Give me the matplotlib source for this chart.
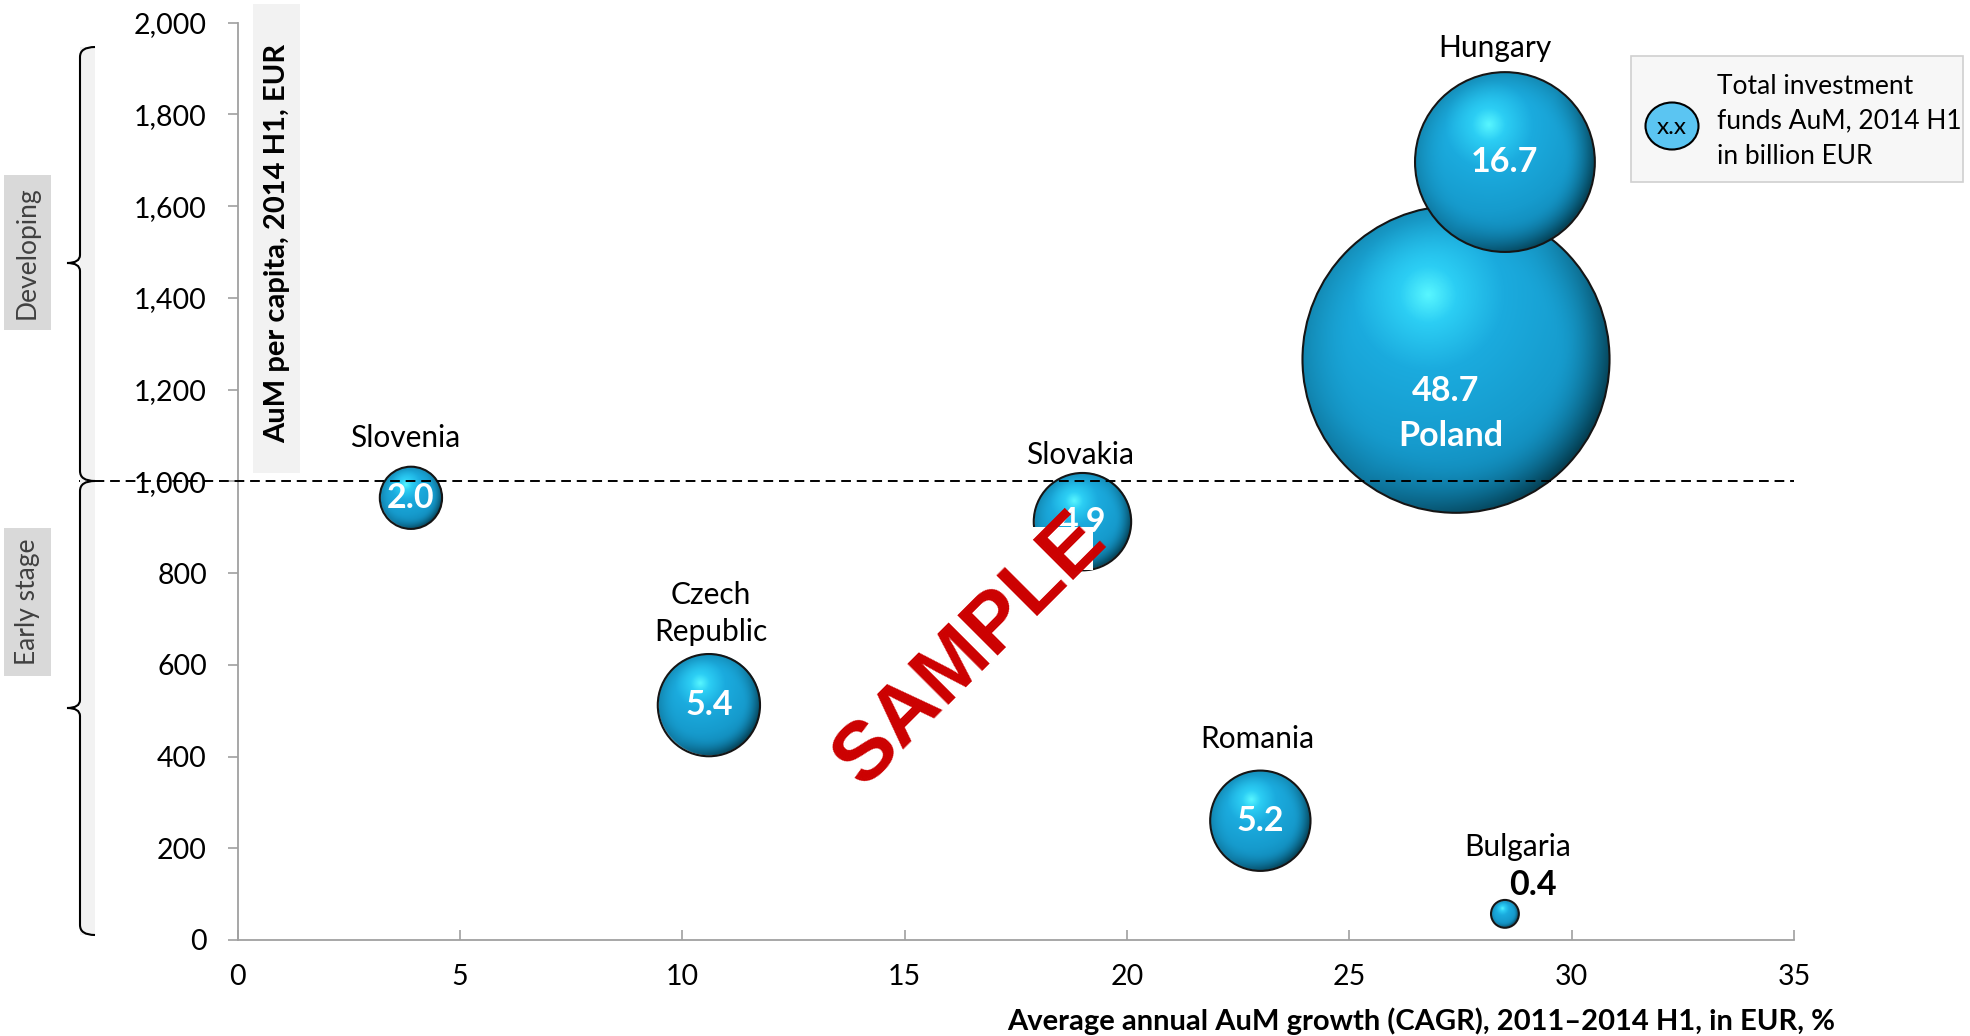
import numpy as np
import matplotlib
matplotlib.use('Agg')
import matplotlib.pyplot as plt
import matplotlib.transforms as mtransforms
from matplotlib.patches import Rectangle, Ellipse, PathPatch
from matplotlib.path import Path
from matplotlib.colors import to_rgb, LinearSegmentedColormap
from matplotlib.ticker import FuncFormatter

plt.rcParams['font.family'] = ['Lato', 'DejaVu Sans']

# data
countries = ['Slovenia', 'Czech\nRepublic', 'Slovakia', 'Romania', 'Bulgaria', 'Hungary', 'Poland']
cagr = [3.9, 10.6, 19.0, 23.0, 28.5, 28.5, 27.4]              # %, x axis
aum_per_capita = [964, 512, 912, 260, 57, 1696, 1266]          # EUR, y axis
aum_total = [2.0, 5.4, 4.9, 5.2, 0.4, 16.7, 48.7]              # bn EUR, bubble size

x_ticks = [0, 5, 10, 15, 20, 25, 30, 35]
y_ticks = [0, 200, 400, 600, 800, 1000, 1200, 1400, 1600, 1800, 2000]
threshold = 1000

# label offsets (points) from bubble centre: name, value
name_off = {'Slovenia': (-4, 42.8), 'Czech\nRepublic': (1.5, 66), 'Slovakia': (-2, 48),
            'Romania': (-2, 58.6), 'Bulgaria': (9, 48), 'Hungary': (-7, 82), 'Poland': (-4, -55)}
value_off = {'Bulgaria': (20, 20.5), 'Poland': (-7.5, -23)}

W, H = 1970, 1036
fig = plt.figure(figsize=(W / 100, H / 100), dpi=100)


def fx(px):
    return px / W


def fy(py):
    return 1 - py / H


ax = fig.add_axes([fx(237.5), fy(940), (1794 - 237.5) / W, (940 - 22.6) / H])
ax.set_xlim(0, 35)
ax.set_ylim(0, 2000)
ax.set_autoscale_on(False)

sphere = LinearSegmentedColormap.from_list(
    'sphere', [(0.0, '#58F6FF'), (0.13, '#2CCEF4'), (0.35, '#1BABDE'),
               (0.7, '#169BCD'), (1.0, '#0F82B0')])
dark = np.array(to_rgb('#02313F'))


def draw_bubble(x, y, val, z):
    cx, cy = ax.transData.transform((x, y))
    r = 22 * np.sqrt(val)
    n = max(int(2 * r), 10)
    g = np.linspace(-1, 1, n)
    u, v = np.meshgrid(g, g)
    rho = np.hypot(u, v)
    d = np.hypot(u + 0.18, v - 0.42) / 1.4
    rgb = sphere(np.clip(d, 0, 1))[..., :3]
    side = np.clip((u * 0.8 - v * 0.6) / np.maximum(rho, 1e-6), 0, 1)
    limb = (np.clip((rho - 0.65) / 0.35, 0, 1) ** 2 * (0.25 + 0.75 * side))[..., None]
    rgb = rgb * (1 - limb * 0.88) + dark * limb * 0.88
    alpha = np.clip((1 - rho) * r + 0.5, 0, 1)
    img = np.dstack([rgb, alpha])
    inv = ax.transData.inverted()
    (x0, y0), (x1, y1) = inv.transform([(cx - r, cy - r), (cx + r, cy + r)])
    ax.imshow(img, extent=(x0, x1, y0, y1), origin='lower', aspect='auto',
              interpolation='bilinear', zorder=z)
    ax.scatter([x], [y], s=(2 * r * 0.72) ** 2, facecolors='none',
               edgecolors='#151515', linewidths=1.5, zorder=z + 0.01)


order = np.argsort(aum_total)[::-1]
for k, i in enumerate(order):
    draw_bubble(cagr[i], aum_per_capita[i], aum_total[i], 2 + k * 0.1)

for i, name in enumerate(countries):
    val = f'{aum_total[i]:.1f}'
    if name == 'Poland':
        dx, dy = value_off[name]
        ax.annotate(val, (cagr[i], aum_per_capita[i]), xytext=(dx, dy), textcoords='offset points',
                    ha='center', va='center', fontsize=24.5, fontweight='bold', color='white', zorder=6)
        dx, dy = name_off[name]
        ax.annotate(name, (cagr[i], aum_per_capita[i]), xytext=(dx, dy), textcoords='offset points',
                    ha='center', va='center', fontsize=24.5, fontweight='bold', color='white', zorder=6)
        continue
    if name == 'Bulgaria':
        dx, dy = value_off[name]
        ax.annotate(val, (cagr[i], aum_per_capita[i]), xytext=(dx, dy), textcoords='offset points',
                    ha='center', va='center', fontsize=24.5, fontweight='bold', color='black', zorder=6)
    else:
        ax.annotate(val, (cagr[i], aum_per_capita[i]), xytext=(0, 0), textcoords='offset points',
                    ha='center', va='center', fontsize=24.5, fontweight='bold', color='white', zorder=6)
    dx, dy = name_off[name]
    ax.annotate(name, (cagr[i], aum_per_capita[i]), xytext=(dx, dy), textcoords='offset points',
                ha='center', va='center', fontsize=21.5, color='black', linespacing=1.4, zorder=6)

# threshold line, runs out past the axis to the brackets
blend = mtransforms.blended_transform_factory(ax.transAxes, ax.transData)
ax.plot([-0.102, 1.0], [threshold, threshold], transform=blend, ls=(0, (5, 3)),
        color='black', lw=1.4, clip_on=False, zorder=5)

ax.set_xticks(x_ticks)
ax.set_yticks(y_ticks)
ax.yaxis.set_major_formatter(FuncFormatter(lambda v, p: f'{v:,.0f}'))
ax.tick_params(axis='x', direction='in', length=7, width=1.2, color='#A0A0A0', pad=17, labelsize=20.5)
ax.tick_params(axis='y', direction='out', length=7, width=1.2, color='#A0A0A0', pad=15, labelsize=20.5)
for s in ['top', 'right']:
    ax.spines[s].set_visible(False)
for s in ['left', 'bottom']:
    ax.spines[s].set_color('#A0A0A0')
    ax.spines[s].set_linewidth(1.3)

# axis titles
fig.patches.append(Rectangle((fx(253), fy(473)), 47 / W, 469 / H, transform=fig.transFigure,
                             facecolor='#F2F2F2', edgecolor='none', zorder=1))
fig.text(fx(277), fy(243), 'AuM per capita, 2014 H1, EUR', rotation=90, ha='center', va='center',
         fontsize=21, fontweight='bold', zorder=3)
fig.text(fx(1421), fy(1021), 'Average annual AuM growth (CAGR), 2011\u20132014 H1, in EUR, %',
         ha='center', va='center', fontsize=21, fontweight='bold')

# stage brackets on the left
fig.patches.append(Rectangle((fx(80), fy(935)), 15 / W, 888 / H, transform=fig.transFigure,
                             facecolor='#F2F2F2', edgecolor='none', zorder=1))


def brace(y0, y1, ym, x=80, tip=67, end=95):
    pts = [(end, y0), (x, y0), (x, y0 + 10), (x, ym - 8), (x, ym), (tip, ym),
           (x, ym), (x, ym + 8), (x, y1 - 10), (x, y1), (end, y1)]
    codes = [Path.MOVETO, Path.CURVE3, Path.CURVE3, Path.LINETO, Path.CURVE3, Path.CURVE3,
             Path.CURVE3, Path.CURVE3, Path.LINETO, Path.CURVE3, Path.CURVE3]
    path = Path([(fx(a), fy(b)) for a, b in pts], codes)
    fig.patches.append(PathPatch(path, transform=fig.transFigure, facecolor='none',
                                 edgecolor='black', lw=1.5, zorder=2))


brace(47, 481, 263)
brace(481, 935, 708)

for label, top, bot in [('Developing', 175, 330), ('Early stage', 528, 676)]:
    fig.patches.append(Rectangle((fx(4), fy(bot)), 47 / W, (bot - top) / H, transform=fig.transFigure,
                                 facecolor='#D9D9D9', edgecolor='none', zorder=1))
    fig.text(fx(27.5), fy((top + bot) / 2), label, rotation=90, ha='center', va='center',
             fontsize=19, color='#404040', zorder=3)

# legend box
fig.patches.append(Rectangle((fx(1631), fy(182)), 332 / W, 126 / H, transform=fig.transFigure,
                             facecolor='#F7F7F7', edgecolor='#D0D0D0', lw=1.2, zorder=1))
fig.patches.append(Ellipse((fx(1672), fy(126)), 53 / W, 47 / H, transform=fig.transFigure,
                           facecolor='#5BC5F2', edgecolor='black', lw=1.5, zorder=2))
fig.text(fx(1672), fy(127), 'x.x', ha='center', va='center', fontsize=17.5, zorder=3)
fig.text(fx(1717), fy(121), 'Total investment\nfunds AuM, 2014 H1\nin billion EUR',
         ha='left', va='center', fontsize=19, linespacing=1.5, zorder=3)

# watermark
fig.patches.append(Rectangle((fx(1033), fy(570)), 60 / W, 43 / H, transform=fig.transFigure,
                             facecolor='white', edgecolor='none', zorder=2.5))
fig.text(fx(970), fy(650), 'SAMPLE', rotation=45, ha='center', va='center', color='#CC0000',
         fontsize=60, fontweight='bold', family=['Liberation Sans', 'DejaVu Sans'], zorder=3)

fig.savefig('out.png', dpi=100)
